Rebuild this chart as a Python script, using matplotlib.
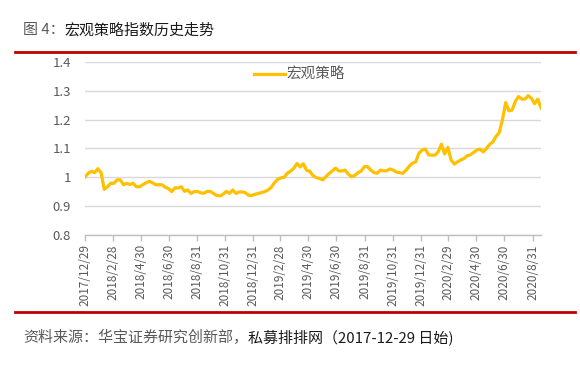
import matplotlib
matplotlib.use("Agg")
import matplotlib.pyplot as plt
import pandas as pd

plt.rcParams['font.family'] = ['Noto Sans CJK SC', 'DejaVu Sans']

# ---- data ----
start_date = "2017-12-29"
series_name = "宏观策略"
values = [
    1.000, 1.013, 1.020, 1.015, 1.029, 1.015, 0.957, 0.966, 0.978, 0.978,
    0.990, 0.990, 0.973, 0.978, 0.974, 0.978, 0.966, 0.966, 0.973, 0.980,
    0.985, 0.980, 0.973, 0.973, 0.973, 0.964, 0.960, 0.949, 0.962, 0.962,
    0.966, 0.950, 0.955, 0.943, 0.949, 0.950, 0.945, 0.943, 0.950, 0.950,
    0.943, 0.936, 0.934, 0.940, 0.950, 0.943, 0.955, 0.943, 0.948, 0.948,
    0.945, 0.936, 0.936, 0.940, 0.943, 0.946, 0.949, 0.955, 0.964, 0.980,
    0.992, 0.997, 0.999, 1.013, 1.020, 1.030, 1.047, 1.035, 1.046, 1.023,
    1.020, 1.005, 0.998, 0.995, 0.990, 1.001, 1.012, 1.021, 1.031, 1.021,
    1.021, 1.024, 1.010, 1.001, 1.005, 1.015, 1.021, 1.036, 1.036, 1.024,
    1.015, 1.013, 1.024, 1.021, 1.022, 1.028, 1.024, 1.017, 1.015, 1.013,
    1.024, 1.038, 1.048, 1.053, 1.083, 1.094, 1.097, 1.077, 1.076, 1.076,
    1.088, 1.114, 1.080, 1.103, 1.059, 1.045, 1.053, 1.059, 1.064, 1.074,
    1.077, 1.085, 1.094, 1.097, 1.087, 1.099, 1.113, 1.122, 1.141, 1.155,
    1.200, 1.259, 1.230, 1.233, 1.263, 1.280, 1.271, 1.271, 1.283, 1.274,
    1.255, 1.271, 1.240,
]
dates = pd.date_range(start_date, periods=len(values), freq="7D")

tick_labels = ["2017/12/29", "2018/2/28", "2018/4/30", "2018/6/30", "2018/8/31",
               "2018/10/31", "2018/12/31", "2019/2/28", "2019/4/30", "2019/6/30",
               "2019/8/31", "2019/10/31", "2019/12/31", "2020/2/29", "2020/4/30",
               "2020/6/30", "2020/8/31"]
y_ticks = [0.8, 0.9, 1.0, 1.1, 1.2, 1.3, 1.4]
y_tick_labels = ["0.8", "0.9", "1", "1.1", "1.2", "1.3", "1.4"]

title_prefix = "图 4："
title_main = "宏观策略指数历史走势"
source_part1 = "资料来源：华宝证券研究创新部，"
source_part2 = "私募排排网（2017-12-29 日始)"

# ---- figure ----
W, H = 580, 367
fig = plt.figure(figsize=(W / 100, H / 100), dpi=100)
fig.patch.set_facecolor("white")

ax = fig.add_axes([85 / W, 1 - 234.5 / H, (541 - 85) / W, (234.5 - 62) / H])
ax.plot(dates, values, color="#FFC000", lw=2.3, label=series_name, solid_joinstyle="round")

ax.set_xlim(dates[0], dates[-1])
ax.set_ylim(0.8, 1.4)
ax.set_yticks(y_ticks)
ax.set_yticklabels(y_tick_labels)
tick_dates = pd.to_datetime(tick_labels, format="%Y/%m/%d")
ax.set_xticks(tick_dates)
ax.set_xticklabels(tick_labels, rotation=90)

ax.grid(axis="y", color="#D9D9D9", lw=1)
ax.set_axisbelow(True)
for s in ["top", "right", "left"]:
    ax.spines[s].set_visible(False)
ax.spines["bottom"].set_color("#BFBFBF")
ax.spines["bottom"].set_linewidth(1)
ax.tick_params(axis="y", length=0, pad=10, labelsize=9.5, labelcolor="#595959")
ax.tick_params(axis="x", length=4, width=1, color="#BFBFBF", pad=3,
               labelsize=8.5, labelcolor="#595959")

leg = ax.legend(loc="center left", bbox_to_anchor=(254 / W, 1 - 75 / H),
                bbox_transform=fig.transFigure, frameon=False,
                fontsize=10.5, handlelength=2.1, handletextpad=0.15,
                borderpad=0, borderaxespad=0)
for t in leg.get_texts():
    t.set_color("#595959")

# red rules
fig.add_artist(plt.Line2D([15 / W, 575 / W], [1 - 52 / H, 1 - 52 / H], color="#C00000", lw=2))
fig.add_artist(plt.Line2D([15 / W, 575 / W], [1 - 312 / H, 1 - 312 / H], color="#C00000", lw=2))

renderer = fig.canvas.get_renderer()
# title
t1 = fig.text(23 / W, 1 - 30 / H, title_prefix, fontsize=10.8, color="#595959", va="center", ha="left")
bb = t1.get_window_extent(renderer=renderer)
fig.text(bb.x1 / W, 1 - 30 / H, title_main, fontsize=10.8, color="#1a1a1a", va="center", ha="left")

# source
s1 = fig.text(23 / W, 1 - 337 / H, source_part1, fontsize=10.8, color="#595959", va="center", ha="left")
bb2 = s1.get_window_extent(renderer=renderer)
fig.text(bb2.x1 / W, 1 - 337 / H, source_part2, fontsize=10.8, color="#1a1a1a", va="center", ha="left")

fig.savefig("out.png", dpi=100, facecolor="white")
